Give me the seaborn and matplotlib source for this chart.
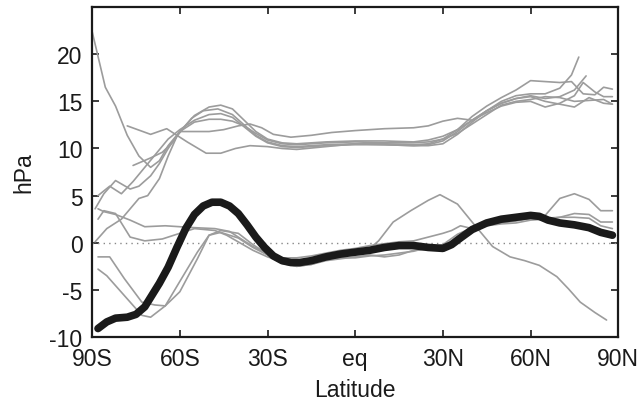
import numpy as np
import pandas as pd
import matplotlib
matplotlib.use("Agg")
import matplotlib.pyplot as plt
import seaborn as sns

# ---- data ----
# upper group of thin gray lines
uA_lat = [-90, -85.5, -82, -78, -74, -70, -67, -64, -60, -55, -50, -46, -42, -38, -34, -30, -25, -20, -10, 0, 10, 20, 25, 30, 35, 40, 45, 50, 55, 60, 65, 70, 74, 76.5]
uA_val = [22.4, 16.5, 14.5, 11.4, 9.2, 8.0, 8.7, 10.3, 11.8, 13.5, 14.4, 14.6, 14.2, 13.0, 11.8, 11.0, 10.6, 10.5, 10.7, 10.8, 10.8, 10.7, 10.9, 11.3, 12.0, 13.0, 14.0, 15.0, 15.6, 15.8, 15.8, 16.4, 17.8, 19.7]
uB_lat = [-89, -85, -80, -74, -71, -67, -64, -61, -56, -52, -47, -42, -38, -34, -30, -25, -20, -10, 0, 10, 20, 25, 30, 35, 40, 45, 50, 55, 60, 65, 70, 74, 78, 82, 85, 88]
uB_val = [0.1, 1.5, 2.5, 4.7, 5.0, 6.8, 9.2, 11.3, 13.2, 14.0, 14.2, 13.6, 12.5, 11.4, 10.7, 10.3, 10.2, 10.4, 10.5, 10.5, 10.4, 10.5, 11.0, 12.0, 13.4, 14.5, 15.4, 16.2, 17.2, 17.1, 17.0, 17.1, 15.8, 15.7, 16.5, 16.3]
uC_lat = [-88, -84, -80, -76, -72, -68, -64, -60, -55, -50, -46, -42, -38, -34, -30, -25, -20, -10, 0, 10, 20, 25, 30, 35, 40, 45, 50, 55, 60, 65, 70, 75, 79]
uC_val = [5.0, 6.0, 5.2, 6.5, 8.0, 9.5, 11.0, 12.0, 13.0, 13.6, 13.7, 13.3, 12.3, 11.3, 10.6, 10.2, 10.1, 10.3, 10.4, 10.4, 10.3, 10.4, 10.8, 11.8, 13.0, 14.0, 14.8, 15.3, 15.6, 15.3, 15.5, 16.2, 17.7]
uD_lat = [-76, -70, -66, -62, -60, -55, -50, -46, -42, -38, -34, -30, -25, -20, -10, 0, 10, 20, 25, 30, 35, 40, 45, 50, 55, 60, 65, 70, 75, 80, 85, 88]
uD_val = [8.2, 9.0, 9.6, 10.8, 11.8, 12.8, 13.1, 13.1, 12.9, 12.4, 11.6, 10.9, 10.5, 10.4, 10.6, 10.7, 10.6, 10.6, 10.7, 11.0, 11.6, 12.6, 13.6, 14.6, 15.0, 15.2, 15.5, 15.4, 15.0, 15.1, 15.2, 14.7]
uE_lat = [-89, -86, -82, -77, -74, -70, -67, -64, -60, -55, -50, -45, -40, -36, -32, -28, -22, -15, -8, 0, 10, 20, 25, 30, 35, 40, 45, 50, 55, 60, 65, 70, 75, 78, 82, 85, 88]
uE_val = [3.6, 5.2, 6.6, 5.7, 6.0, 7.1, 8.4, 10.0, 11.8, 11.8, 11.8, 12.0, 12.4, 12.6, 12.2, 11.5, 11.2, 11.4, 11.7, 11.9, 12.1, 12.2, 12.4, 12.9, 13.2, 13.0, 13.8, 14.5, 14.9, 15.0, 14.4, 14.8, 15.6, 17.0, 16.0, 15.5, 15.5]
uF_lat = [-78, -70, -64.5, -57.5, -51, -46, -41, -36, -30, -25, -20, -10, 0, 10, 20, 25, 30, 35, 40, 45, 50, 55, 60, 65, 70, 75, 80, 85, 88]
uF_val = [12.4, 11.5, 12.1, 10.7, 9.5, 9.5, 10.0, 10.3, 10.2, 10.0, 9.9, 10.2, 10.5, 10.4, 10.3, 10.3, 10.5, 11.5, 12.8, 14.0, 14.8, 15.3, 15.5, 15.0, 14.7, 14.4, 15.4, 14.8, 14.7]

# lower group of thin gray lines
la_lat = [-88, -85, -79, -73, -70, -65, -60, -54, -50, -46, -40, -35, -30, -25, -20, -15, -10, -5, 0, 5, 10, 15, 20, 25, 30, 35, 40, 45, 50, 55, 60, 65, 70, 75, 80, 84, 88]
la_val = [-2.8, -3.5, -5.6, -7.7, -7.9, -6.7, -4.1, -1.0, 0.8, 1.1, 0.5, -0.5, -1.3, -2.2, -2.5, -2.3, -1.8, -1.6, -1.6, -1.4, -1.3, -1.1, -0.9, -0.5, -0.2, 0.9, 1.6, 1.9, 2.1, 2.3, 2.6, 2.9, 4.7, 5.2, 4.6, 3.4, 3.4]
lb_lat = [-88, -84, -79, -73, -68.6, -65, -60, -54, -50, -46, -40, -35, -30, -25, -20, -15, -10, -5, 0, 5, 10, 15, 20, 25, 30, 35, 40, 45, 50, 55, 60, 65, 70, 75, 80, 84, 88]
lb_val = [-1.5, -1.5, -3.8, -6.3, -6.6, -6.7, -5.2, -1.7, 0.8, 1.3, 1.0, -0.2, -1.2, -2.1, -2.5, -2.3, -1.9, -1.7, -1.5, -1.3, -1.5, -1.3, -0.8, -0.7, -0.5, 0.7, 1.5, 1.9, 2.1, 2.4, 2.6, 2.6, 2.7, 3.1, 3.0, 2.2, 2.2]
lc_lat = [-88, -86, -82, -77, -72, -66, -55, -48, -44, -35, -30, -25, -20, -15, -10, -5, 0, 5, 8, 13, 19, 25, 29, 35, 40, 47, 53, 58, 63, 69, 73, 77, 82, 86]
lc_val = [2.5, 3.4, 3.1, 0.6, 0.2, 0.4, 1.5, 1.3, 0.8, -0.8, -1.5, -2.0, -2.2, -2.0, -1.6, -1.2, -1.0, -0.6, 0.2, 2.2, 3.4, 4.5, 5.1, 4.1, 2.2, -0.4, -1.5, -1.9, -2.4, -3.6, -4.9, -6.3, -7.4, -8.2]
ld_lat = [-88, -86, -82, -77, -72, -65, -55, -48, -43, -35, -30, -25, -20, -15, -10, -5, 0, 5, 10, 15, 20, 25, 30, 33, 36, 40, 45, 50, 55, 60, 65, 70, 75, 80, 84, 88]
ld_val = [3.6, 3.3, 3.0, 2.4, 1.7, 1.8, 1.6, 1.5, 1.2, -0.4, -1.2, -1.6, -1.6, -1.4, -1.1, -0.8, -0.6, -0.3, -0.1, 0.1, 0.2, 0.6, 1.0, 1.3, 1.8, 1.5, 1.8, 2.0, 2.1, 2.4, 2.5, 2.7, 2.7, 2.6, 1.8, 1.5]

# thick black line (mean)
mean_lat = [-88, -85, -82, -78, -75, -72, -70, -67, -64, -61, -58, -55, -52, -49, -46, -43, -40, -37, -34, -31, -28, -25, -22, -19, -15, -10, -5, 0, 5, 10, 15, 20, 25, 30, 33, 36, 40, 45, 50, 55, 60, 63, 66, 70, 75, 80, 84, 88]
mean_val = [-9.1, -8.4, -8.0, -7.9, -7.6, -6.8, -5.8, -4.3, -2.6, -0.5, 1.5, 3.0, 3.9, 4.3, 4.3, 3.9, 3.1, 1.9, 0.6, -0.5, -1.4, -1.9, -2.1, -2.1, -1.9, -1.5, -1.2, -1.0, -0.8, -0.5, -0.3, -0.3, -0.5, -0.6, -0.2, 0.5, 1.4, 2.1, 2.5, 2.7, 2.9, 2.8, 2.4, 2.1, 1.9, 1.6, 1.1, 0.8]

xticks = [-90, -60, -30, 0, 30, 60, 90]
xticklabels = ["90S", "60S", "30S", "eq", "30N", "60N", "90N"]
yticks = [-10, -5, 0, 5, 10, 15, 20]
yticklabels = ["-10", "-5", "0", "5", "10", "15", "20"]

# ---- build long-form table ----
thin = {
    "uA": (uA_lat, uA_val), "uB": (uB_lat, uB_val), "uC": (uC_lat, uC_val),
    "uD": (uD_lat, uD_val), "uE": (uE_lat, uE_val), "uF": (uF_lat, uF_val),
    "la": (la_lat, la_val), "lb": (lb_lat, lb_val), "lc": (lc_lat, lc_val),
    "ld": (ld_lat, ld_val),
}
rows = []
for name, (la, va) in thin.items():
    for a, v in zip(la, va):
        rows.append((name, a, v))
df = pd.DataFrame(rows, columns=["line", "lat", "val"])
dmean = pd.DataFrame({"lat": mean_lat, "val": mean_val})

sns.set_style("white")
plt.rcParams["font.family"] = ["Liberation Sans", "DejaVu Sans"]
plt.rcParams["axes.unicode_minus"] = False

fig = plt.figure(figsize=(6.4, 4.06), dpi=100)
ax = fig.add_axes([0.144, 0.1675, 0.822, 0.8125])

ax.axhline(0, color="#888888", lw=1.0, ls=(0, (1, 3)), zorder=1)
sns.lineplot(data=df, x="lat", y="val", units="line", estimator=None,
             color="#9c9c9c", lw=1.2, sort=False, ax=ax, zorder=2, legend=False)
sns.lineplot(data=dmean, x="lat", y="val", color="#1a1a1a", lw=5.5,
             sort=False, ax=ax, zorder=3, legend=False)

ax.set_xlim(-90, 90)
ax.set_ylim(-10, 25)
ax.set_xticks(xticks)
ax.set_xticklabels(xticklabels)
ax.set_yticks(yticks)
ax.set_yticklabels(yticklabels)
ax.tick_params(direction="in", length=5, width=1.2, bottom=True, left=True,
               top=True, right=True, labelsize=16.5, colors="#1a1a1a", pad=7)
for s in ax.spines.values():
    s.set_visible(True)
    s.set_color("#1a1a1a")
    s.set_linewidth(1.6)
ax.set_xlabel("Latitude", fontsize=16.5, color="#1a1a1a", labelpad=6)
ax.set_ylabel("hPa", fontsize=16.5, color="#1a1a1a", labelpad=10)

fig.savefig("out.png", dpi=100)
